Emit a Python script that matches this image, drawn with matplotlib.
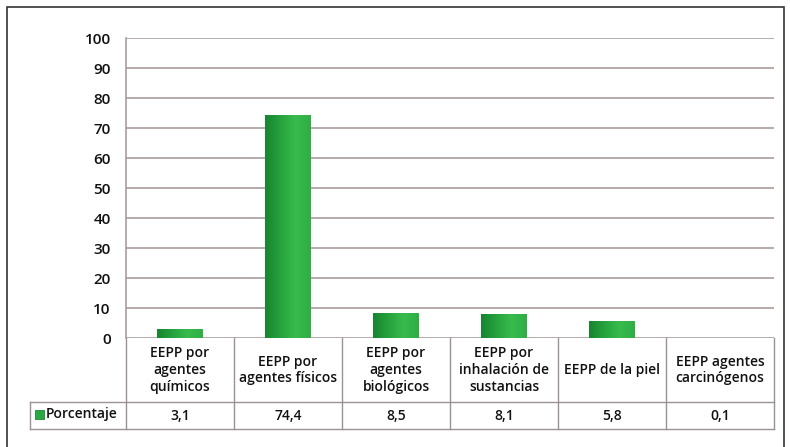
import numpy as np
import matplotlib.pyplot as plt
from matplotlib.patches import Rectangle
from matplotlib.lines import Line2D
from matplotlib.colors import LinearSegmentedColormap

categories = [
    "EEPP por\nagentes\nquímicos",
    "EEPP por\nagentes físicos",
    "EEPP por\nagentes\nbiológicos",
    "EEPP por\ninhalación de\nsustancias",
    "EEPP de la piel",
    "EEPP agentes\ncarcinógenos",
]
values = [3.1, 74.4, 8.5, 8.1, 5.8, 0.1]
value_labels = ["3,1", "74,4", "8,5", "8,1", "5,8", "0,1"]
series_name = "Porcentaje"
yticks = list(range(0, 101, 10))

FONT = ["Open Sans", "DejaVu Sans"]
plt.rcParams["font.family"] = FONT
WEIGHT = "semibold"
TXT = "#111111"

W, H = 790, 447
fig = plt.figure(figsize=(W / 100, H / 100), dpi=100)

# plot area in pixel coordinates
left_px, right_px, top_px, bottom_px = 126, 774, 38, 338
ax = fig.add_axes([left_px / W, 1 - bottom_px / H,
                   (right_px - left_px) / W, (bottom_px - top_px) / H])

n = len(categories)
x = np.arange(n)

grid_col = "#a39393"
for t in yticks:
    ax.axhline(t, color=grid_col, lw=1.1, zorder=1)
ax.set_yticks(yticks)
ax.set_yticklabels([str(t) for t in yticks], fontsize=11, color=TXT,
                   fontweight=WEIGHT)
ax.tick_params(axis="y", length=0, pad=11)
ax.set_xticks([])
for s in ["top", "right", "bottom"]:
    ax.spines[s].set_visible(False)
ax.spines["left"].set_color(grid_col)
ax.spines["left"].set_linewidth(1.1)

# green bars with a left-to-right shading
cmap = LinearSegmentedColormap.from_list(
    "bar", ["#188530", "#26a23e", "#38bb4c", "#2fae45"])
grad = np.linspace(0, 1, 64).reshape(1, -1)
bars = ax.bar(x, values, width=0.42, color="#2aa842", zorder=2, edgecolor="none")
for b in bars:
    x0, y0 = b.get_x(), b.get_y()
    w, h = b.get_width(), b.get_height()
    im = ax.imshow(grad, cmap=cmap, aspect="auto",
                   extent=(x0, x0 + w, y0, y0 + h), zorder=3)
    im.set_clip_path(b)
ax.set_xlim(-0.5, n - 0.5)
ax.set_ylim(0, 100)

# data table below the plot
line_col = "#9c9090"
row1_bottom = -64 / 300
row2_bottom = -91 / 300
legend_left = (30 - left_px) / (right_px - left_px)
tr = ax.transAxes

def hline(x0, x1, y):
    ax.add_line(Line2D([x0, x1], [y, y], transform=tr, color=line_col,
                       lw=1.0, clip_on=False))

def vline(xv, y0, y1):
    ax.add_line(Line2D([xv, xv], [y0, y1], transform=tr, color=line_col,
                       lw=1.0, clip_on=False))

hline(legend_left, 1, row1_bottom)
hline(legend_left, 1, row2_bottom)
for i in range(n + 1):
    vline(i / n, 0, row2_bottom)
vline(legend_left, row1_bottom, row2_bottom)

for i, (cat, lab) in enumerate(zip(categories, value_labels)):
    xc = (i + 0.5) / n
    ax.text(xc, row1_bottom / 2, cat, transform=tr, ha="center", va="center",
            fontsize=10, color=TXT, linespacing=1.25, fontweight=WEIGHT)
    ax.text(xc, (row1_bottom + row2_bottom) / 2, lab, transform=tr,
            ha="center", va="center", fontsize=10, color=TXT,
            fontweight=WEIGHT)

# legend key inside the table
ax.add_patch(Rectangle((35 / W, 1 - 419 / H), 9 / W, 9 / H,
                       transform=fig.transFigure, facecolor="#2aa842",
                       edgecolor="#1a8a33", lw=0.6, clip_on=False))
fig.text(46 / W, 1 - 414 / H, series_name, ha="left", va="center",
         fontsize=10, color=TXT, fontweight=WEIGHT)

# outer frame
fig.add_artist(Rectangle((7 / W, -0.01), 777 / W, 1 - 7 / H + 0.01,
                         transform=fig.transFigure, fill=False,
                         edgecolor="#333333", lw=1.2))

fig.savefig("out.png", dpi=100)
